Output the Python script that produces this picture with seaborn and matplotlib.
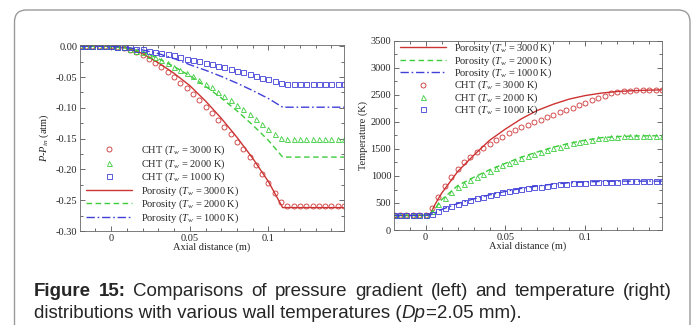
import numpy as np
import pandas as pd
import seaborn as sns
import matplotlib.pyplot as plt
from matplotlib.patches import FancyBboxPatch
from matplotlib.ticker import MultipleLocator, FixedLocator, FixedFormatter

# ---- data ----
# marker (CHT) positions, shared by both panels
x_cht = [-0.020, -0.016, -0.012, -0.008, -0.004, 0.000, 0.004, 0.008, 0.012, 0.016,
         0.020, 0.024, 0.028, 0.032, 0.036, 0.040, 0.044, 0.048, 0.052, 0.056,
         0.060, 0.064, 0.068, 0.072, 0.076, 0.080, 0.084, 0.088, 0.092, 0.096,
         0.100, 0.104, 0.108, 0.112, 0.116, 0.120, 0.124, 0.128, 0.132, 0.136,
         0.140, 0.144, 0.148]

# pressure difference (atm)
p_cht_3000 = [0, 0, 0, 0, 0, 0, -0.001, -0.003, -0.006, -0.010,
              -0.015, -0.020, -0.027, -0.034, -0.042, -0.050, -0.059, -0.068, -0.078, -0.088,
              -0.098, -0.109, -0.120, -0.131, -0.143, -0.155, -0.167, -0.180, -0.193, -0.207,
              -0.222, -0.238, -0.253, -0.260, -0.260, -0.260, -0.260, -0.260, -0.260, -0.260,
              -0.260, -0.260, -0.260]
p_cht_2000 = [0, 0, 0, 0, 0, 0, -0.001, -0.002, -0.004, -0.007,
              -0.010, -0.014, -0.018, -0.023, -0.028, -0.033, -0.038, -0.043, -0.049, -0.055,
              -0.061, -0.067, -0.074, -0.081, -0.088, -0.095, -0.102, -0.110, -0.118, -0.126,
              -0.134, -0.142, -0.149, -0.151, -0.151, -0.151, -0.151, -0.151, -0.151, -0.151,
              -0.151, -0.151, -0.151]
p_cht_1000 = [0, 0, 0, 0, 0, 0, -0.001, -0.001, -0.002, -0.004,
              -0.005, -0.007, -0.009, -0.011, -0.013, -0.015, -0.017, -0.020, -0.022, -0.024,
              -0.027, -0.029, -0.032, -0.034, -0.037, -0.040, -0.042, -0.045, -0.048, -0.051,
              -0.054, -0.057, -0.059, -0.061, -0.061, -0.061, -0.061, -0.061, -0.061, -0.061,
              -0.061, -0.061, -0.061]

x_line_p = [-0.02, -0.01, 0.0, 0.01, 0.02, 0.03, 0.04, 0.05, 0.06, 0.07,
            0.08, 0.09, 0.10, 0.109, 0.12, 0.13, 0.14, 0.148]
p_por_3000 = [0, 0, 0, -0.003, -0.012, -0.027, -0.044, -0.064, -0.089, -0.117,
              -0.148, -0.182, -0.220, -0.262, -0.262, -0.262, -0.262, -0.262]
p_por_2000 = [0, 0, 0, -0.003, -0.009, -0.020, -0.033, -0.048, -0.065, -0.084,
              -0.105, -0.128, -0.153, -0.180, -0.180, -0.180, -0.180, -0.180]
p_por_1000 = [0, 0, 0, -0.002, -0.006, -0.012, -0.020, -0.030, -0.039, -0.049,
              -0.060, -0.072, -0.085, -0.099, -0.099, -0.099, -0.099, -0.099]

# temperature (K)
t_cht_3000 = [270, 270, 270, 270, 270, 280, 400, 620, 820, 990,
              1130, 1250, 1350, 1440, 1520, 1595, 1665, 1730, 1790, 1845,
              1900, 1950, 2000, 2045, 2090, 2135, 2180, 2220, 2265, 2310,
              2355, 2400, 2445, 2490, 2530, 2560, 2575, 2580, 2585, 2585,
              2590, 2590, 2590]
t_cht_2000 = [270, 270, 270, 270, 270, 280, 350, 480, 600, 700,
              790, 860, 925, 985, 1040, 1095, 1145, 1195, 1240, 1285,
              1330, 1370, 1410, 1445, 1480, 1515, 1545, 1575, 1605, 1630,
              1655, 1675, 1695, 1710, 1720, 1730, 1735, 1740, 1740, 1740,
              1740, 1740, 1740]
t_cht_1000 = [270, 270, 270, 270, 270, 280, 300, 350, 400, 445,
              490, 525, 560, 590, 620, 645, 670, 695, 715, 735,
              755, 775, 790, 805, 820, 833, 845, 855, 865, 872,
              878, 884, 888, 892, 895, 898, 900, 900, 900, 900,
              900, 900, 900]

x_line_t = [-0.02, -0.01, 0.0, 0.003, 0.006, 0.01, 0.02, 0.03, 0.04, 0.05, 0.06,
            0.07, 0.08, 0.09, 0.10, 0.11, 0.12, 0.13, 0.14, 0.148]
t_por_3000 = [270, 270, 272, 300, 480, 680, 1080, 1380, 1660, 1870, 2060,
              2215, 2330, 2425, 2490, 2535, 2565, 2580, 2590, 2595]
t_por_2000 = [270, 270, 272, 290, 400, 560, 820, 975, 1115, 1235, 1350,
              1445, 1535, 1605, 1665, 1710, 1730, 1740, 1745, 1745]
t_por_1000 = [270, 270, 272, 280, 320, 380, 490, 575, 650, 715, 770,
              815, 850, 875, 890, 900, 905, 905, 905, 905]

temps = ["3000", "2000", "1000"]
colors = {"3000": "#cc3333", "2000": "#3ccc3c", "1000": "#4040d8"}
markers = {"3000": "o", "2000": "^", "1000": "s"}
dashes = {"3000": "-", "2000": (0, (4, 2.5)), "1000": (0, (6, 2, 1.2, 2))}

sns.set_style("ticks")
plt.rcParams["font.family"] = ["Liberation Serif", "DejaVu Serif"]
plt.rcParams["mathtext.fontset"] = "custom"
plt.rcParams["mathtext.rm"] = "Liberation Serif"
plt.rcParams["mathtext.it"] = "Liberation Serif:italic"
plt.rcParams["axes.unicode_minus"] = False

fig = plt.figure(figsize=(6.99, 3.25), dpi=100)
ax1 = fig.add_axes([80 / 699, 94 / 325, 264 / 699, 186 / 325])
ax2 = fig.add_axes([394 / 699, 95 / 325, 268 / 699, 189 / 325])

p_cht = {"3000": p_cht_3000, "2000": p_cht_2000, "1000": p_cht_1000}
p_por = {"3000": p_por_3000, "2000": p_por_2000, "1000": p_por_1000}
t_cht = {"3000": t_cht_3000, "2000": t_cht_2000, "1000": t_cht_1000}
t_por = {"3000": t_por_3000, "2000": t_por_2000, "1000": t_por_1000}


def draw(ax, x_line, lines, cht):
    h_cht, h_por = [], []
    for t in temps:
        sns.lineplot(x=x_line, y=lines[t], ax=ax, color=colors[t], lw=1.0,
                     linestyle=dashes[t], label=f"Porosity ($T_w$ = {t} K)")
        h_por.append(ax.get_lines()[-1])
        sns.lineplot(x=x_cht, y=cht[t], ax=ax, color=colors[t], linestyle="none",
                     marker=markers[t], ms=3.6, mfc="none", mec=colors[t], mew=0.6,
                     label=f"CHT ($T_w$ = {t} K)")
        h_cht.append(ax.get_lines()[-1])
    return h_cht, h_por


hc, hp = draw(ax1, x_line_p, p_por, p_cht)
ax1.legend(handles=hc + hp, loc="lower left", bbox_to_anchor=(0.0, 0.0),
           frameon=False, fontsize=7.5, handlelength=4.4, handletextpad=0.9,
           labelspacing=0.0, borderaxespad=0.2)
hc, hp = draw(ax2, x_line_t, t_por, t_cht)
ax2.legend(handles=hp + hc, loc="upper left", bbox_to_anchor=(0.0, 1.03),
           frameon=False, fontsize=7.5, handlelength=4.4, handletextpad=0.8,
           labelspacing=-0.1, borderaxespad=0.2)

ax1.set_ylim(-0.30, 0.002)
ax1.yaxis.set_major_locator(MultipleLocator(0.05))
ax1.yaxis.set_minor_locator(MultipleLocator(0.025))
ax1.yaxis.set_major_formatter(FixedFormatter([]))
ax1.set_ylabel("$P$-$P_{in}$ (atm)", fontsize=7.5, labelpad=3)

ax2.set_ylim(0, 3500)
ax2.yaxis.set_major_locator(MultipleLocator(500))
ax2.yaxis.set_minor_locator(MultipleLocator(250))
ax2.set_ylabel("Temperature (K)", fontsize=7.5, labelpad=2)

for ax in (ax1, ax2):
    ax.set_xlim(-0.0198, 0.148)
    ax.xaxis.set_major_locator(FixedLocator([0, 0.05, 0.1]))
    ax.xaxis.set_major_formatter(FixedFormatter(["0", "0.05", "0.1"]))
    ax.xaxis.set_minor_locator(MultipleLocator(0.01))
    ax.set_xlabel("Axial distance (m)", fontsize=7.5, labelpad=0)
    ax.tick_params(which="both", direction="in", top=True, right=True,
                   labelsize=7.5, color="#555555", width=0.6, pad=2)
    ax.tick_params(which="major", length=3.5)
    ax.tick_params(which="minor", length=2)
    for s in ax.spines.values():
        s.set_linewidth(0.6)
        s.set_color("#666666")

ax1.yaxis.set_major_locator(FixedLocator([0, -0.05, -0.10, -0.15, -0.20, -0.25, -0.30]))
ax1.yaxis.set_major_formatter(FixedFormatter(["0.00", "-0.05", "-0.10", "-0.15",
                                              "-0.20", "-0.25", "-0.30"]))

# rounded frame around the figure (open at the bottom)
frame = FancyBboxPatch((0.145, -0.6), 6.755, 3.75, boxstyle="round,pad=0,rounding_size=0.12",
                       transform=fig.dpi_scale_trans, fill=False, ec="#9a9a9a", lw=1.0,
                       clip_on=False)
fig.patches.append(frame)

# caption, first line justified
renderer = fig.canvas.get_renderer()
cap_font = ["Liberation Sans", "DejaVu Sans"]
cap_size = 13.5
words = [("Figure", "bold"), ("15:", "bold"), ("Comparisons", "normal"), ("of", "normal"),
         ("pressure", "normal"), ("gradient", "normal"), ("(left)", "normal"),
         ("and", "normal"), ("temperature", "normal"), ("(right)", "normal")]
x0, x1 = 34 / 699, 672 / 699
y1, y2 = 1 - 292 / 325, 1 - 313 / 325
texts = [fig.text(0, y1, w, fontsize=cap_size, fontweight=fw, family=cap_font, va="center")
         for w, fw in words]
widths = [t.get_window_extent(renderer).width / fig.bbox.width for t in texts]
gap = (x1 - x0 - sum(widths)) / (len(texts) - 1)
xp = x0
for t, w in zip(texts, widths):
    t.set_x(xp)
    xp += w + gap

xp = x0
for s, st in [("distributions with various wall temperatures (", "normal"), ("Dp", "italic"),
              ("=2.05 mm).", "normal")]:
    t = fig.text(xp, y2, s, fontsize=cap_size, style=st, family=cap_font, va="center")
    xp += t.get_window_extent(renderer).width / fig.bbox.width

fig.savefig("out.png", dpi=100)
